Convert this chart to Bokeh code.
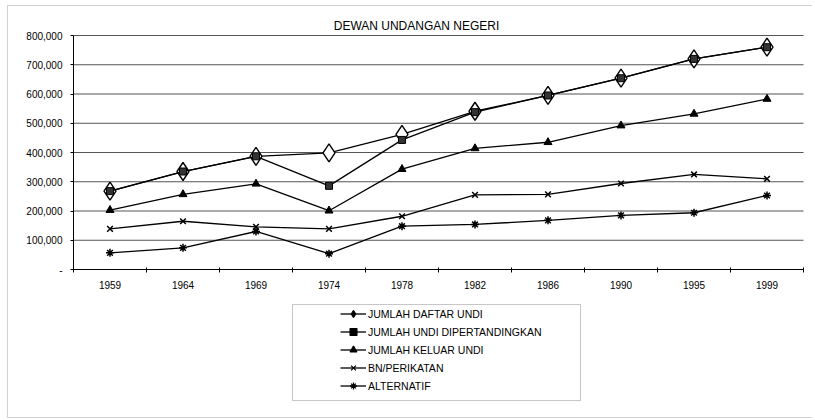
from bokeh.plotting import figure
from bokeh.models import (Range1d, FixedTicker, NumeralTickFormatter, Legend, LegendItem,
                          BoxAnnotation, Label, LinearAxis)
from bokeh.embed import file_html
from bokeh.resources import INLINE

title_text = "DEWAN UNDANGAN NEGERI"
years = ["1959", "1964", "1969", "1974", "1978", "1982", "1986", "1990", "1995", "1999"]
daftar_undi = [268000, 335000, 387000, 399000, 462000, 541000, 595000, 654000, 720000, 760000]
undi_dipertandingkan = [268000, 335000, 387000, 286000, 443000, 538000, 595000, 654000, 720000, 760000]
keluar_undi = [203000, 257000, 293000, 201000, 343000, 414000, 435000, 492000, 532000, 583000]
bn_perikatan = [139000, 165000, 146000, 139000, 182000, 255000, 257000, 294000, 325000, 310000]
alternatif = [57000, 74000, 130000, 54000, 148000, 154000, 168000, 185000, 194000, 253000]
series_names = ["JUMLAH DAFTAR UNDI", "JUMLAH UNDI DIPERTANDINGKAN", "JUMLAH KELUAR UNDI",
                "BN/PERIKATAN", "ALTERNATIF"]
y_ticks = [0, 100000, 200000, 300000, 400000, 500000, 600000, 700000, 800000]

FONT = "Liberation Sans"

# ---- page layout (pixels) ----
W, H = 812, 418
FRAME_L, FRAME_R, FRAME_T, FRAME_B = 73, 803, 35, 269

n = len(years)
xs = [i + 0.5 for i in range(n)]
y_lo, y_hi = y_ticks[0], y_ticks[-1]

# the drawing frame covers the whole canvas, so that nothing outside the
# plotting area gets clipped; ranges are chosen so the data area lands on
# the wanted pixel box
px_per_x = (FRAME_R - FRAME_L) / n
x_start = 0 - FRAME_L / px_per_x
x_end = x_start + W / px_per_x
px_per_y = (FRAME_B - FRAME_T) / (y_hi - y_lo)
y_end = y_hi + FRAME_T / px_per_y
y_start = y_end - H / px_per_y

p = figure(width=W, height=H, output_backend="svg", toolbar_location=None,
           x_range=Range1d(x_start, x_end), y_range=Range1d(y_start, y_end),
           x_axis_location=None, y_axis_location=None,
           min_border=0, min_border_left=0, min_border_right=0,
           min_border_top=0, min_border_bottom=0)
p.outline_line_color = None
p.background_fill_color = "white"
p.border_fill_color = "white"
p.xgrid.visible = False
p.ygrid.visible = False

# grid lines (only across the data area)
p.segment(x0=[0] * (len(y_ticks) - 1), x1=[n] * (len(y_ticks) - 1),
          y0=y_ticks[1:], y1=y_ticks[1:], line_color="#555555", line_width=1)

# x axis
xaxis = LinearAxis(fixed_location=y_lo, bounds=(0, n))
xaxis.ticker = FixedTicker(ticks=xs, minor_ticks=list(range(n + 1)))
xaxis.major_label_overrides = {x: y for x, y in zip(xs, years)}
xaxis.major_tick_line_color = None
xaxis.minor_tick_in = 2
xaxis.minor_tick_out = 3
xaxis.minor_tick_line_color = "black"
xaxis.axis_line_color = "black"
xaxis.major_label_standoff = 5
xaxis.major_label_text_font = FONT
xaxis.major_label_text_font_size = "10px"
xaxis.major_label_text_color = "black"
p.add_layout(xaxis, "below")

# y axis
yaxis = LinearAxis(fixed_location=0, bounds=(y_lo, y_hi))
yaxis.ticker = FixedTicker(ticks=y_ticks)
yaxis.formatter = NumeralTickFormatter(format="0,0")
yaxis.major_label_overrides = {0: "-"}
yaxis.major_tick_in = 0
yaxis.major_tick_out = 3
yaxis.minor_tick_line_color = None
yaxis.axis_line_color = "black"
yaxis.major_tick_line_color = "black"
yaxis.major_label_standoff = 8
yaxis.major_label_text_font = FONT
yaxis.major_label_text_font_size = "10px"
yaxis.major_label_text_color = "black"
p.add_layout(yaxis, "left")

LW = 1.3
series = [daftar_undi, undi_dipertandingkan, keluar_undi, bn_perikatan, alternatif]
markers = ["diamond", "square", "triangle", "x", "asterisk"]
sizes = [18, 7, 8, 8, 8]
legend_sizes = [8, 7, 7, 7, 7]
fills = ["white", "#333333", "black", "black", "black"]
mlw = [1.4, 1, 1, 1.5, 1.5]

# legend-key markers sit at one point far outside the visible area
off_x, off_y = [x_start - 100], [y_start - 1e7]

items = []
for nm, ys, mk, sz, lsz, fc, w in zip(series_names, series, markers, sizes, legend_sizes, fills, mlw):
    rl = p.line(xs, ys, line_color="black", line_width=LW)
    p.scatter(xs, ys, marker=mk, size=sz, fill_color=fc, line_color="black", line_width=w)
    rk = p.scatter(x=off_x, y=off_y, marker=mk, size=lsz, fill_color="black",
                   line_color="black", line_width=1.3)
    items.append(LegendItem(label=nm, renderers=[rl, rk]))

# title
p.add_layout(Label(x=416, y=H - 25, x_units="screen", y_units="screen", text=title_text,
                   text_font=FONT, text_font_size="12px", text_align="center",
                   text_baseline="middle", text_color="black"))

# legend
LEG_LEFT, LEG_TOP, ROW = 340, 305, 18
leg_h = len(items) * ROW - 1
legend = Legend(items=items, location=(LEG_LEFT, H - (LEG_TOP + leg_h)), orientation="vertical",
                padding=0, spacing=1, glyph_width=26, glyph_height=ROW - 1, label_height=ROW - 1,
                label_standoff=2, margin=0,
                label_text_font=FONT, label_text_font_size="10.5px", label_text_color="black",
                border_line_color=None, background_fill_alpha=0)
p.add_layout(legend, "center")

# legend frame and outer frame
p.add_layout(BoxAnnotation(left=292, right=580, top=304, bottom=400,
                           left_units="canvas", right_units="canvas",
                           top_units="canvas", bottom_units="canvas",
                           fill_alpha=0, line_color="#444444", line_width=1))
p.add_layout(BoxAnnotation(left=7, right=W + 20, top=5, bottom=417,
                           left_units="canvas", right_units="canvas",
                           top_units="canvas", bottom_units="canvas",
                           fill_alpha=0, line_color="#666666", line_width=1))

open("out.html", "w").write(file_html(p, INLINE))
